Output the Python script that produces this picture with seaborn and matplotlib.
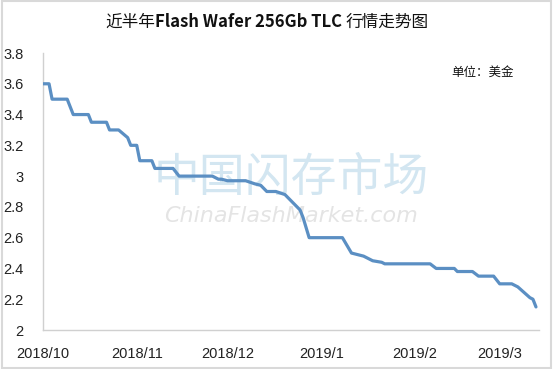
import pandas as pd
import matplotlib.pyplot as plt
import matplotlib.patches as mpatches
import seaborn as sns

# dates of the turning points of the price curve
dates = ['2018-10-01', '2018-10-03', '2018-10-04', '2018-10-09', '2018-10-11',
         '2018-10-16', '2018-10-17', '2018-10-22', '2018-10-23', '2018-10-26',
         '2018-10-29', '2018-10-30', '2018-11-01', '2018-11-02', '2018-11-06',
         '2018-11-07', '2018-11-13', '2018-11-15', '2018-11-26', '2018-11-28',
         '2018-11-29', '2018-12-01', '2018-12-07', '2018-12-10', '2018-12-12',
         '2018-12-14', '2018-12-17', '2018-12-20', '2018-12-23', '2018-12-25',
         '2018-12-26', '2018-12-28', '2019-01-08', '2019-01-11', '2019-01-15',
         '2019-01-16', '2019-01-18', '2019-01-21', '2019-01-22', '2019-02-06',
         '2019-02-08', '2019-02-14', '2019-02-15', '2019-02-20', '2019-02-22',
         '2019-02-27', '2019-03-01', '2019-03-05', '2019-03-07', '2019-03-11',
         '2019-03-12', '2019-03-13']
prices = [3.60, 3.60, 3.50, 3.50, 3.40,
          3.40, 3.35, 3.35, 3.30, 3.30,
          3.25, 3.20, 3.20, 3.10, 3.10,
          3.05, 3.05, 3.00, 3.00, 2.98,
          2.98, 2.97, 2.97, 2.95, 2.94,
          2.90, 2.90, 2.88, 2.82, 2.78,
          2.73, 2.60, 2.60, 2.50, 2.48,
          2.47, 2.45, 2.44, 2.43, 2.43,
          2.40, 2.40, 2.38, 2.38, 2.35,
          2.35, 2.30, 2.30, 2.28, 2.21,
          2.20, 2.15]

month_ticks = ['2018-10-01', '2018-11-01', '2018-12-01', '2019-01-01', '2019-02-01', '2019-03-01']
month_labels = ['2018/10', '2018/11', '2018/12', '2019/1', '2019/2', '2019/3']
y_ticks = [2, 2.2, 2.4, 2.6, 2.8, 3, 3.2, 3.4, 3.6, 3.8]

df = pd.DataFrame({'date': pd.to_datetime(dates), 'price': prices})

sns.set_style('white')
plt.rcParams['font.family'] = ['Noto Sans CJK SC', 'DejaVu Sans']

fig = plt.figure(figsize=(5.54, 3.69), dpi=100)
ax = fig.add_axes([43 / 554, 1 - 330 / 369, (539 - 43) / 554, (330 - 53) / 369])

# watermark
ax.text(0.5, 0.55, '中国闪存市场', transform=ax.transAxes, ha='center', va='center',
        fontsize=33, color='#d3e6f1', zorder=0)
ax.text(0.5, 0.41, 'ChinaFlashMarket.com', transform=ax.transAxes, ha='center', va='center',
        fontsize=16, style='italic', color='#e4e4e4', family='DejaVu Sans', zorder=0)

sns.lineplot(data=df, x='date', y='price', ax=ax, color='#5b8fc3', linewidth=2.3,
             estimator=None, sort=False, zorder=3)

ax.set_xlim(pd.Timestamp('2018-10-01'), pd.Timestamp('2019-03-14'))
ax.set_ylim(2, 3.8)
ax.set_xticks(pd.to_datetime(month_ticks))
ax.set_xticklabels(month_labels, family='Liberation Sans', fontsize=10.5, color='#222222')
ax.set_yticks(y_ticks)
ax.set_yticklabels([f'{v:g}' for v in y_ticks], family='Liberation Sans', fontsize=10.5,
                   color='#222222')
ax.tick_params(axis='x', direction='in', length=4, color='#d0d0d0', pad=12)
ax.tick_params(axis='y', direction='in', length=4, color='#d0d0d0', pad=14)
ax.set_xlabel('')
ax.set_ylabel('')
for side in ['top', 'right']:
    ax.spines[side].set_visible(False)
for side in ['left', 'bottom']:
    ax.spines[side].set_color('#d0d0d0')
    ax.spines[side].set_linewidth(1)

ax.text(451 / 554, 1 - 72 / 369, '单位：美金', transform=fig.transFigure, ha='left',
        va='center', fontsize=9, color='#111111')

# title: regular chinese, bold latin part
parts = [('近半年', 'normal'), ('Flash Wafer 256Gb TLC ', 'bold'), ('行情走势图', 'normal')]
renderer = fig.canvas.get_renderer()
texts = []
widths = []
for s, w in parts:
    t = fig.text(0, 1 - 22 / 369, s, fontsize=12, fontweight=w, va='center', color='#111111')
    texts.append(t)
    widths.append(t.get_window_extent(renderer).width)
x0 = 267 - sum(widths) / 2
for t, w in zip(texts, widths):
    t.set_x(x0 / 554)
    x0 += w

fig.patches.append(mpatches.Rectangle((0.003, 0.004), 0.992, 0.992, transform=fig.transFigure,
                                      fill=False, edgecolor='#d9d9d9', linewidth=1.5))

fig.savefig('out.png', dpi=100)
